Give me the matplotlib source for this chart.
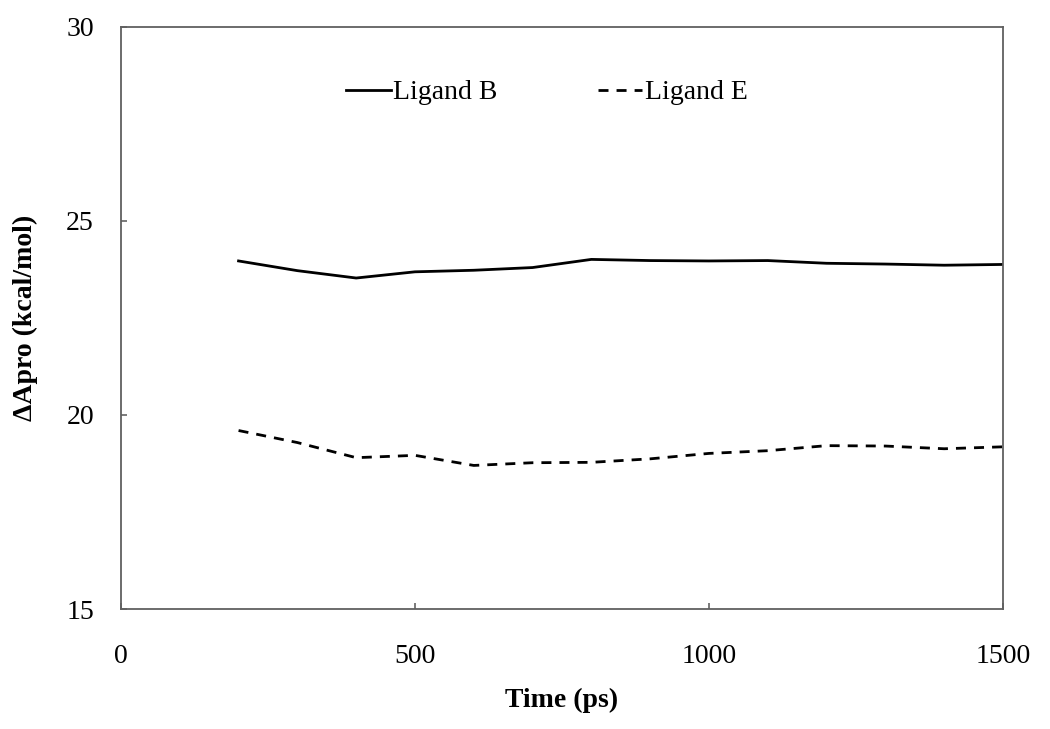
import matplotlib.pyplot as plt

plt.rcParams['font.family'] = ['Liberation Serif', 'DejaVu Serif']

# time (ps)
time_ps = [200, 300, 400, 500, 600, 700, 800, 900, 1000, 1100, 1200, 1300, 1400, 1500]
# dApro (kcal/mol)
ligand_b = [23.97, 23.72, 23.53, 23.69, 23.73, 23.80, 24.01, 23.98, 23.97, 23.98, 23.91, 23.89, 23.86, 23.88]
ligand_e = [19.60, 19.29, 18.90, 18.96, 18.70, 18.77, 18.78, 18.87, 19.01, 19.08, 19.21, 19.20, 19.13, 19.18]

x_ticks = [0, 500, 1000, 1500]
y_ticks = [15, 20, 25, 30]

fig = plt.figure(figsize=(10.5, 7.29), dpi=100)
ax = fig.add_axes([0.1152, 0.1646, 0.84, 0.7984])

ax.plot(time_ps, ligand_b, color='black', linewidth=2, linestyle='-', label='Ligand B')
ax.plot(time_ps, ligand_e, color='black', linewidth=2, linestyle=(0, (3.6, 2.9)), label='Ligand E')

ax.set_xlim(0, 1500)
ax.set_ylim(15, 30)
ax.set_xticks(x_ticks)
ax.set_yticks(y_ticks)

for s in ax.spines.values():
    s.set_color('#606060')
    s.set_linewidth(1.3)
ax.tick_params(direction='in', length=4.5, width=1.3, color='#707070', labelsize=20)
ax.tick_params(axis='y', pad=19.5)
ax.tick_params(axis='x', pad=25)

ax.set_xlabel('Time (ps)', fontsize=20, fontweight='bold', labelpad=13.5)
ax.set_ylabel('ΔApro (kcal/mol)', fontsize=20, fontweight='bold', labelpad=20.5)

ax.legend(loc='center', bbox_to_anchor=(0.521, 0.873), bbox_transform=fig.transFigure,
          ncol=2, frameon=False, fontsize=20, handlelength=1.6, handletextpad=0.1,
          columnspacing=3.6)

fig.savefig('out.png', dpi=100)
